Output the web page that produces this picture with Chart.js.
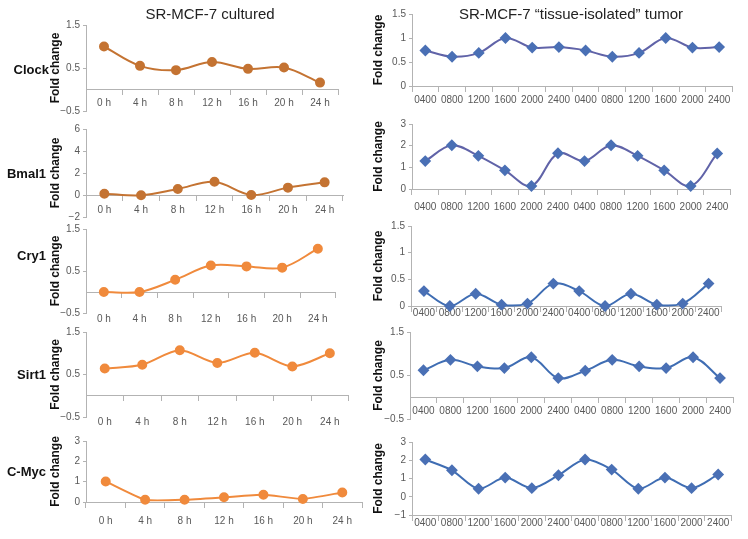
<!DOCTYPE html>
<html>
<head>
<meta charset="utf-8">
<script src="https://cdn.jsdelivr.net/npm/chart.js@4.4.0/dist/chart.umd.min.js"></script>
<style>
  html, body { margin: 0; padding: 0; width: 748px; height: 539px; overflow: hidden; background: #fff; font-family: "Liberation Sans", Arial, sans-serif; }
  canvas { position: absolute; }
  .title { position: absolute; font-size: 15px; color: #222; white-space: nowrap; transform: translate(-50%, -50%); z-index: 2; }
  .gene { position: absolute; right: 702px; font-size: 13px; font-weight: bold; color: #111; white-space: nowrap; transform: translateY(-50%); z-index: 2; }
</style>
</head>
<body>
<div class="title" style="left:210px; top:13px">SR-MCF-7 cultured</div>
<div class="title" style="left:571px; top:13px">SR-MCF-7 “tissue-isolated” tumor</div>
<div class="gene" style="top:69px; right:699px">Clock</div>
<div class="gene" style="top:173px">Bmal1</div>
<div class="gene" style="top:255px">Cry1</div>
<div class="gene" style="top:374px">Sirt1</div>
<div class="gene" style="top:471px">C-Myc</div>
<script>
const hourLabels = ["0 h", "4 h", "8 h", "12 h", "16 h", "20 h", "24 h"];
const clockLabels = ["0400", "0800", "1200", "1600", "2000", "2400", "0400", "0800", "1200", "1600", "2000", "2400"];

// cultured cells, fold change
const clockCultured = [1.0, 0.55, 0.45, 0.64, 0.48, 0.51, 0.16];
const bmal1Cultured = [0.12, -0.03, 0.55, 1.2, 0.0, 0.67, 1.15];
const cry1Cultured = [0.0, 0.0, 0.29, 0.63, 0.61, 0.58, 1.03];
const sirt1Cultured = [0.64, 0.73, 1.07, 0.77, 1.01, 0.69, 1.0];
const cmycCultured = [1.01, 0.11, 0.11, 0.23, 0.36, 0.15, 0.47];

// tissue-isolated tumor, fold change
const clockTissue = [0.74, 0.61, 0.69, 1.0, 0.8, 0.81, 0.74, 0.61, 0.69, 1.0, 0.8, 0.81];
const bmal1Tissue = [1.29, 2.02, 1.53, 0.86, 0.14, 1.65, 1.29, 2.02, 1.53, 0.86, 0.14, 1.64];
const cry1Tissue = [0.28, 0.0, 0.23, 0.025, 0.045, 0.42, 0.28, 0.0, 0.23, 0.025, 0.045, 0.42];
const sirt1Tissue = [0.62, 0.86, 0.71, 0.67, 0.92, 0.44, 0.61, 0.86, 0.71, 0.67, 0.92, 0.44];
const cmycTissue = [2.04, 1.45, 0.44, 1.05, 0.47, 1.18, 2.04, 1.49, 0.44, 1.05, 0.47, 1.22];

const AXIS = "#b3b3b3";
const TICK = "#595959";
const BROWN = "#c47332";
const ORANGE = "#f08a3c";
const PURPLE = "#6063a8";
const BLUE = "#3f6db3";
const DIAMOND = "#4a70b5";

Chart.defaults.font.family = '"Liberation Sans", Arial, sans-serif';

const cultured = { canvasLeft: 44, labels: hourLabels, point: "circle", radius: 4 };
const tissue = { canvasLeft: 367, labels: clockLabels, point: "rectRot", radius: 4.5, marker: DIAMOND };

// pixel boxes: axisX/right, top (max) / bottom (min)
const panels = [
  { ...cultured, data: clockCultured, line: BROWN, marker: BROWN, axisX: 86, right: 338, top: 25, bottom: 111, min: -0.5, max: 1.5, step: 1, xAt: 0, gap: 3, tension: 0.35 },
  { ...cultured, data: bmal1Cultured, line: BROWN, marker: BROWN, axisX: 86, right: 343, top: 129, bottom: 217, min: -2, max: 6, step: 2, xAt: 0, gap: 4, tension: 0.35 },
  { ...cultured, data: cry1Cultured, line: ORANGE, marker: ORANGE, axisX: 86, right: 338, top: 229, bottom: 313, min: -0.5, max: 1.5, step: 1, xAt: 0, gap: 16, tension: 0.35 },
  { ...cultured, data: sirt1Cultured, line: ORANGE, marker: ORANGE, axisX: 86, right: 349, top: 332, bottom: 417, min: -0.5, max: 1.5, step: 1, xAt: 0, gap: 15, tension: 0.3 },
  { ...cultured, data: cmycCultured, line: ORANGE, marker: ORANGE, axisX: 86, right: 362, top: 441, bottom: 502, min: 0, max: 3, step: 1, xAt: 0, gap: 8, tension: 0.15 },
  { ...tissue, data: clockTissue, line: PURPLE, axisX: 412, right: 733, top: 14, bottom: 86, min: 0, max: 1.5, step: 0.5, xAt: 0, gap: 3, tension: 0.35 },
  { ...tissue, data: bmal1Tissue, line: PURPLE, axisX: 412, right: 731, top: 124, bottom: 189, min: 0, max: 3, step: 1, xAt: 0, gap: 7, tension: 0.35 },
  { ...tissue, data: cry1Tissue, line: BLUE, axisX: 411, right: 722, top: 226, bottom: 306, min: 0, max: 1.5, step: 0.5, xAt: 0, gap: -4, tension: 0.35 },
  { ...tissue, data: sirt1Tissue, line: BLUE, axisX: 410, right: 734, top: 332, bottom: 419, min: -0.5, max: 1.5, step: 1, xAt: 0, gap: 3, tension: 0.35 },
  { ...tissue, data: cmycTissue, line: BLUE, axisX: 412, right: 732, top: 442, bottom: 515, min: -1, max: 3, step: 1, xAt: -1, gap: -3, tension: 0.3 }
];

const PAD_TOP = 10;
const PAD_RIGHT = 6;

function tickText(value) {
  return String(value).replace("-", "\u2212");
}

panels.forEach((p) => {
  const padBottom = 24 + Math.max(0, p.gap);
  const yWidth = p.axisX - p.canvasLeft;
  const w = p.right - p.canvasLeft + PAD_RIGHT;
  const h = p.bottom - p.top + PAD_TOP + padBottom;

  const canvas = document.createElement("canvas");
  canvas.width = w;
  canvas.height = h;
  canvas.style.left = `${p.canvasLeft}px`;
  canvas.style.top = `${p.top - PAD_TOP}px`;
  canvas.style.width = `${w}px`;
  canvas.style.height = `${h}px`;
  document.body.appendChild(canvas);

  new Chart(canvas, {
    type: "line",
    data: {
      labels: p.labels,
      datasets: [{
        data: p.data,
        borderColor: p.line,
        borderWidth: 2,
        backgroundColor: p.marker,
        pointBackgroundColor: p.marker,
        pointBorderColor: p.marker,
        pointStyle: p.point,
        pointRadius: p.radius,
        tension: p.tension,
        clip: false
      }]
    },
    options: {
      responsive: false,
      animation: false,
      events: [],
      layout: { padding: { left: 0, top: PAD_TOP, right: PAD_RIGHT, bottom: padBottom } },
      plugins: { legend: { display: false }, tooltip: { enabled: false } },
      scales: {
        x: {
          position: { y: p.xAt },
          offset: true,
          grid: { offset: true, drawOnChartArea: false, tickLength: 5, color: AXIS },
          border: { color: AXIS },
          ticks: { padding: p.gap, color: TICK, font: { size: 10 }, maxRotation: 0, autoSkip: false }
        },
        y: {
          min: p.min,
          max: p.max,
          grid: { drawOnChartArea: false, tickLength: 3, color: AXIS },
          border: { color: AXIS },
          ticks: { stepSize: p.step, padding: 3, color: TICK, font: { size: 10 }, callback: tickText },
          title: { display: true, text: "Fold change", color: "#111", font: { size: 12, weight: "bold" }, padding: { top: 4, bottom: 4 } },
          afterFit: (scale) => { scale.width = yWidth; }
        }
      }
    }
  });
});
</script>
</body>
</html>
